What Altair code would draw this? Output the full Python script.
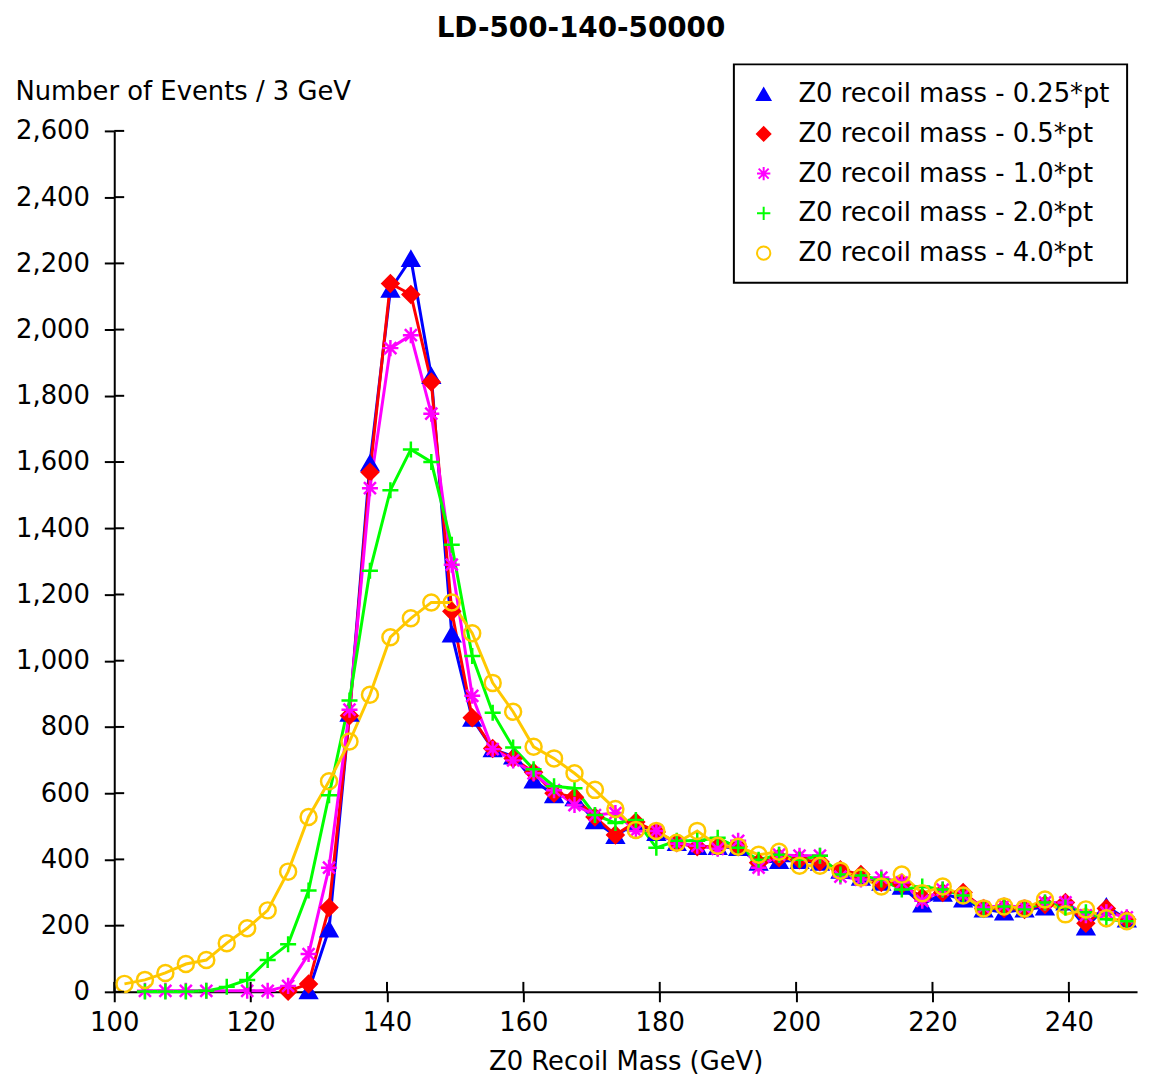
import altair as alt
import pandas as pd

# ---- data; None = empty bin (not drawn) ----
BIN_START = 100.0
BIN_WIDTH = 3.0
N_BINS = 50
mass = [BIN_START + BIN_WIDTH * (i + 0.5) for i in range(N_BINS)]

series_names = [
    "Z0 recoil mass - 0.25*pt",
    "Z0 recoil mass - 0.5*pt",
    "Z0 recoil mass - 1.0*pt",
    "Z0 recoil mass - 2.0*pt",
    "Z0 recoil mass - 4.0*pt",
]

pt_025 = [None, None, None, None, None, None, None, None, None, 2,
          189, 840, 1596, 2121, 2214, 1860, 1080, 825, 733, 711,
          639, 594, 585, 516, 471, 510, 480, 450, 438, 438,
          435, 390, 396, 396, 390, 366, 345, 330, 318, 264,
          297, 279, 249, 240, 249, 255, 270, 195, 258, 219]

pt_05 = [None, None, None, None, None, None, None, None, 2, 24,
         255, 834, 1569, 2139, 2106, 1842, 1149, 828, 735, 705,
         663, 600, 588, 528, 474, 513, 483, 450, 438, 438,
         438, 390, 405, 399, 393, 369, 354, 330, 324, 285,
         300, 300, 252, 252, 249, 264, 270, 207, 252, 219]

pt_10 = [None, 3, 3, 3, 3, None, 3, 3, 18, 114,
         375, 852, 1521, 1944, 1983, 1746, 1290, 894, 733, 699,
         660, 609, 564, 534, 540, 486, 486, 447, 441, 432,
         456, 375, 414, 411, 411, 348, 339, 345, 330, 275,
         309, 291, 255, 261, 255, 270, 270, 231, 240, 225]

pt_20 = [None, 1, 1, 1, 3, 15, 36, 96, 144, 306,
         594, 880, 1272, 1515, 1638, 1600, 1350, 1014, 843, 738,
         672, 621, 615, 534, 510, 519, 435, 456, 456, 465,
         435, 399, 414, 399, 411, 354, 351, 339, 309, 318,
         309, 291, 249, 258, 249, 270, 255, 240, 219, 213]

pt_40 = [24, 36, 57, 84, 96, 147, 192, 246, 363, 528,
         636, 756, 897, 1071, 1128, 1176, 1176, 1083, 933, 846,
         740, 705, 660, 610, 552, 489, 486, 450, 486, 441,
         438, 414, 423, 381, 381, 366, 345, 318, 354, 298,
         318, 291, 252, 258, 252, 279, 234, 249, 222, 213]

stroke_colors = ["#0000ff", "#ff0000", "#ff00ff", "#00ff00", "#ffc800"]
fill_colors = ["#0000ff", "#ff0000", "transparent", "transparent", "transparent"]
ASTERISK = "M-1,0L1,0M0,-1L0,1M-0.75,-0.75L0.75,0.75M-0.75,0.75L0.75,-0.75"
PLUS = "M-1,0L1,0M0,-1L0,1"
shapes = ["triangle-up", "diamond", ASTERISK, PLUS, "circle"]

x_ticks = [100, 120, 140, 160, 180, 200, 220, 240]
y_ticks = list(range(0, 2601, 200))

rows = []
for order, (name, vals) in enumerate(zip(series_names, [pt_025, pt_05, pt_10, pt_20, pt_40])):
    for m, v in zip(mass, vals):
        if v is None:
            continue
        rows.append({"series": name, "order": order, "mass": m, "events": v})
df = pd.DataFrame(rows)

FONT = "DejaVu Sans"
FS = 26

legend = alt.Legend(
    title=None,
    orient="none",
    legendX=624,
    legendY=-67,
    fillColor="white",
    padding=17,
    rowPadding=14,
    labelFont=FONT,
    labelFontSize=FS,
    labelColor="black",
    labelOffset=22,
    labelLimit=600,
    symbolSize=180,
    symbolStrokeWidth=2,
)

x_axis = alt.Axis(
    values=x_ticks,
    title="Z0 Recoil Mass (GeV)",
    titleFont=FONT,
    titleFontSize=FS,
    titleFontWeight="normal",
    titleColor="black",
    titleY=70,
    titleBaseline="middle",
    labelFont=FONT,
    labelFontSize=FS,
    labelColor="black",
    labelPadding=8,
    domainColor="black",
    domainWidth=2,
    tickColor="black",
    tickWidth=2,
    tickSize=10,
    grid=False,
    labelFlush=False,
)
y_axis = alt.Axis(
    values=y_ticks,
    format=",d",
    title="Number of Events / 3 GeV",
    titleFont=FONT,
    titleFontSize=FS,
    titleFontWeight="normal",
    titleColor="black",
    titleAngle=0,
    titleAlign="left",
    titleBaseline="middle",
    titleX=-100,
    titleY=-40,
    labelFont=FONT,
    labelFontSize=FS,
    labelColor="black",
    labelPadding=15,
    domainColor="black",
    domainWidth=2,
    tickColor="black",
    tickWidth=2,
    tickSize=10,
    grid=False,
    labelFlush=False,
)

x_scale = alt.Scale(domain=[100, 250], nice=False, zero=False)
y_scale = alt.Scale(domain=[0, 2600], nice=False)
x_enc = alt.X("mass:Q", scale=x_scale, axis=x_axis)
y_enc = alt.Y("events:Q", scale=y_scale, axis=y_axis)

stroke_scale = alt.Scale(domain=series_names, range=stroke_colors)
fill_scale = alt.Scale(domain=series_names, range=fill_colors)
shape_scale = alt.Scale(domain=series_names, range=shapes)

base = alt.Chart(df)

# inner halves of the crossing axis ticks
ytick_df = pd.DataFrame({"events": y_ticks})
xtick_df = pd.DataFrame({"mass": x_ticks})
y_inner = alt.Chart(ytick_df).mark_rule(color="black", strokeWidth=2).encode(
    y=y_enc,
    x=alt.value(0),
    x2=alt.value(10),
)
x_inner = alt.Chart(xtick_df).mark_rule(color="black", strokeWidth=2).encode(
    x=x_enc,
    y=alt.value(857),
    y2=alt.value(867),
)

lines = base.mark_line(strokeWidth=3).encode(
    x=x_enc,
    y=y_enc,
    stroke=alt.Stroke("series:N", scale=stroke_scale, legend=legend, sort=series_names),
    detail="series:N",
    order=alt.Order("mass:Q"),
)

points = base.mark_point(filled=True, size=260, strokeWidth=2.5, opacity=1, fillOpacity=1).encode(
    x=x_enc,
    y=y_enc,
    stroke=alt.Stroke("series:N", scale=stroke_scale, legend=legend, sort=series_names),
    fill=alt.Fill("series:N", scale=fill_scale, legend=legend, sort=series_names),
    shape=alt.Shape("series:N", scale=shape_scale, legend=legend, sort=series_names),
)

chart = (
    alt.layer(lines, points, y_inner, x_inner)
    .properties(
        width=1030,
        height=867,
        autosize=alt.AutoSizeParams(type="none"),
        padding={"left": 107, "top": 120, "right": 5, "bottom": 83},
        background="white",
        title=alt.Title(
            "LD-500-140-50000",
            font=FONT,
            fontSize=28,
            fontWeight="bold",
            color="black",
            anchor="middle",
            dx=-45,
            offset=21,
            frame="group",
        ),
    )
    .configure_view(stroke=None)
    .configure_legend(strokeColor="black", strokeWidth=2)
)

chart.save("out.html", embed_options={"renderer": "svg", "actions": False})
